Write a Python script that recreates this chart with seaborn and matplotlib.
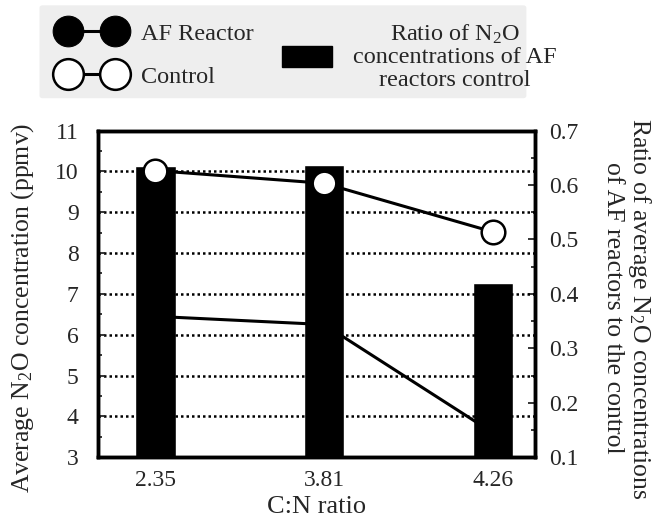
import matplotlib
matplotlib.use("Agg")
import matplotlib.pyplot as plt
import seaborn as sns
import pandas as pd
from matplotlib.patches import FancyBboxPatch, Patch
from matplotlib.ticker import MultipleLocator

# values
cn_ratio = ["2.35", "3.81", "4.26"]
af_reactor = [6.45, 6.25, 3.6]       # ppmv, filled circles (hidden behind bars)
control = [10.02, 9.71, 8.52]        # ppmv, open circles
ratio_af_control = [0.635, 0.637, 0.42]

sns.set_style("white")
plt.rcParams['font.family'] = ['Liberation Serif', 'DejaVu Serif']
plt.rcParams['mathtext.fontset'] = 'custom'
plt.rcParams['mathtext.rm'] = 'Liberation Serif'
plt.rcParams['mathtext.it'] = 'Liberation Serif:italic'

df = pd.DataFrame({"cn": cn_ratio, "pos": range(len(cn_ratio)),
                   "af": af_reactor, "control": control, "ratio": ratio_af_control})

fig = plt.figure(figsize=(6.58, 5.31), dpi=100)
ax = fig.add_axes([0.149, 0.139, 0.664, 0.615])
ax2 = ax.twinx()

# bars on the right axis
sns.barplot(data=df, x="cn", y="ratio", color="black", saturation=1,
            width=0.24, ax=ax2)

# lines on the left axis
sns.lineplot(data=df, x="pos", y="af", ax=ax, color="black", linewidth=2.2,
             marker="o", markersize=17, markerfacecolor="black",
             markeredgecolor="black", label="AF Reactor")
sns.lineplot(data=df, x="pos", y="control", ax=ax, color="black", linewidth=2.2,
             marker="o", markersize=17, markerfacecolor="white",
             markeredgecolor="black", markeredgewidth=1.8, label="Control")

ax.set_zorder(ax2.get_zorder() + 1)
ax.patch.set_visible(False)

ax.set_ylim(3, 11)
ax2.set_ylim(0.1, 0.7)
ax.set_xlim(-0.34, 2.25)
ax.set_xticks(range(len(cn_ratio)), cn_ratio)
ax.yaxis.set_major_locator(MultipleLocator(1))
ax.yaxis.set_minor_locator(MultipleLocator(0.5))
ax2.yaxis.set_major_locator(MultipleLocator(0.1))
ax2.yaxis.set_minor_locator(MultipleLocator(0.05))

ax.yaxis.grid(True, which="major", linestyle=(0, (1, 1.2)), color="black", linewidth=1.8)

ax.tick_params(axis="y", which="both", left=True, direction="in", width=1.3, labelsize=17, pad=14)
ax.tick_params(axis="y", which="major", length=5)
ax.tick_params(axis="y", which="minor", length=3)
ax.tick_params(axis="x", length=0, labelsize=17, pad=9)
ax2.tick_params(axis="y", which="both", right=True, direction="in", width=1.3, labelsize=17, pad=10)
ax2.tick_params(axis="y", which="major", length=5)
ax2.tick_params(axis="y", which="minor", length=3)

for a in (ax, ax2):
    for s in a.spines.values():
        s.set_linewidth(2.5)
        s.set_color("black")

ax.set_xlabel("C:N ratio", fontsize=19, labelpad=4)
ax.set_ylabel("Average N$_2$O concentration (ppmv)", fontsize=18.5)
ax.yaxis.set_label_coords(-0.142, 0.456)
ax2.set_ylabel("Ratio of average N$_2$O concentrations\nof AF reactors to the control",
               fontsize=18.5, rotation=270, va="bottom", multialignment="center",
               linespacing=1.15)
ax2.yaxis.set_label_coords(1.153, 0.456)

# legend area
ax.get_legend().remove()
bg = FancyBboxPatch((0.065, 0.82), 0.73, 0.165, transform=fig.transFigure,
                    boxstyle="round,pad=0.005", facecolor="#eeeeee", edgecolor="none", zorder=0)
fig.patches.append(bg)

handles, labels = ax.get_legend_handles_labels()
leg1 = fig.legend(handles, labels, loc="center left", bbox_to_anchor=(0.092, 0.896),
                  frameon=False, numpoints=2, fontsize=17.5, handlelength=2.55,
                  handletextpad=0.75, labelspacing=0.85, borderpad=0, borderaxespad=0,
                  markerscale=1.3)
leg2 = fig.legend([Patch(facecolor="black", edgecolor="black")],
                  ["Ratio of N$_2$O\nconcentrations of AF\nreactors control"],
                  loc="center left", bbox_to_anchor=(0.4286, 0.893), frameon=False,
                  fontsize=17.5, handlelength=2.06, handleheight=0.95,
                  handletextpad=0.85, borderpad=0, borderaxespad=0)
for t in leg2.get_texts():
    t.set_multialignment("center")
    t.set_linespacing(1.1)

fig.savefig("out.png", dpi=100)
